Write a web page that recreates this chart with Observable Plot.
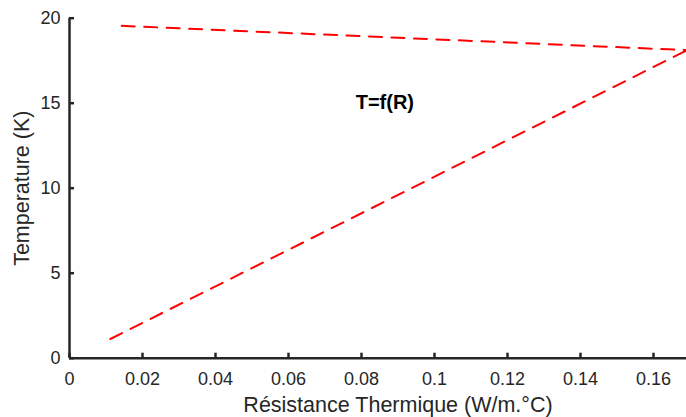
<!DOCTYPE html>
<html>
<head>
<meta charset="utf-8">
<script src="https://cdn.jsdelivr.net/npm/d3@7"></script>
<script src="https://cdn.jsdelivr.net/npm/@observablehq/plot@0.6"></script>
<style>
  html, body { margin: 0; padding: 0; background: #fff; overflow: hidden; }
  #chart { width: 686px; height: 417px; }
</style>
</head>
<body>
<div id="chart"></div>
<script>
// Series
const upperR = [0.0143, 0.1692];
const upperT = [19.55, 18.12];
const lowerR = [0.0112, 0.1692];
const lowerT = [1.13, 18.12];

// Ticks
const xTicks = [0, 0.02, 0.04, 0.06, 0.08, 0.1, 0.12, 0.14, 0.16];
const xTickLabels = ["0", "0.02", "0.04", "0.06", "0.08", "0.1", "0.12", "0.14", "0.16"];
const yTicks = [0, 5, 10, 15, 20];
const yTickLabels = ["0", "5", "10", "15", "20"];

// Texts
const xLabel = "Résistance Thermique (W/m.°C)";
const yLabel = "Temperature (K)";
const annotation = ["T=f(R)"];
const annotationR = [0.0784];
const annotationT = [15.05];

const upper = upperR.map((r, i) => ({R: r, T: upperT[i]}));
const lower = lowerR.map((r, i) => ({R: r, T: lowerT[i]}));
const ann = annotation.map((t, i) => ({label: t, R: annotationR[i], T: annotationT[i]}));

const axisColor = "#262626";
const font = "'Liberation Sans', Arial, Helvetica, sans-serif";

const chart = Plot.plot({
  width: 686,
  height: 417,
  marginLeft: 69,
  marginRight: -40,
  marginTop: 17.7,
  marginBottom: 59.3,
  style: {fontFamily: font, background: "#fff", color: axisColor},
  x: {domain: [0, 0.18], ticks: xTicks},
  y: {domain: [0, 20], ticks: yTicks},
  marks: [
    Plot.line(upper, {x: "R", y: "T", stroke: "#ff0000", strokeWidth: 2, strokeDasharray: "13,9.5"}),
    Plot.line(lower, {x: "R", y: "T", stroke: "#ff0000", strokeWidth: 2, strokeDasharray: "13,9.5"}),
    Plot.ruleY([0], {stroke: axisColor, strokeWidth: 2.5}),
    Plot.ruleX([0], {stroke: axisColor, strokeWidth: 2.5}),
    Plot.axisX({
      ticks: xTicks, tickSize: -5, tickPadding: 19, fontSize: 18, strokeWidth: 2.5,
      stroke: axisColor, fill: axisColor, label: null,
      tickFormat: (d, i) => xTickLabels[i]
    }),
    Plot.axisY({
      ticks: yTicks, tickSize: -5, tickPadding: 14, fontSize: 18, strokeWidth: 2.5,
      stroke: axisColor, fill: axisColor, label: null,
      tickFormat: (d, i) => yTickLabels[i]
    }),
    Plot.text([xLabel], {frameAnchor: "bottom", textAnchor: "middle", dy: 47.3, fontSize: 21.5, fill: axisColor, lineAnchor: "middle"}),
    Plot.text([yLabel], {frameAnchor: "left", textAnchor: "middle", dx: -47.5, rotate: -90, fontSize: 21.5, fill: axisColor, lineAnchor: "middle"}),
    Plot.text(ann, {x: "R", y: "T", text: "label", textAnchor: "start", fontSize: 20, fontWeight: "bold", fill: "#000"})
  ]
});
document.getElementById("chart").appendChild(chart);
</script>
</body>
</html>
